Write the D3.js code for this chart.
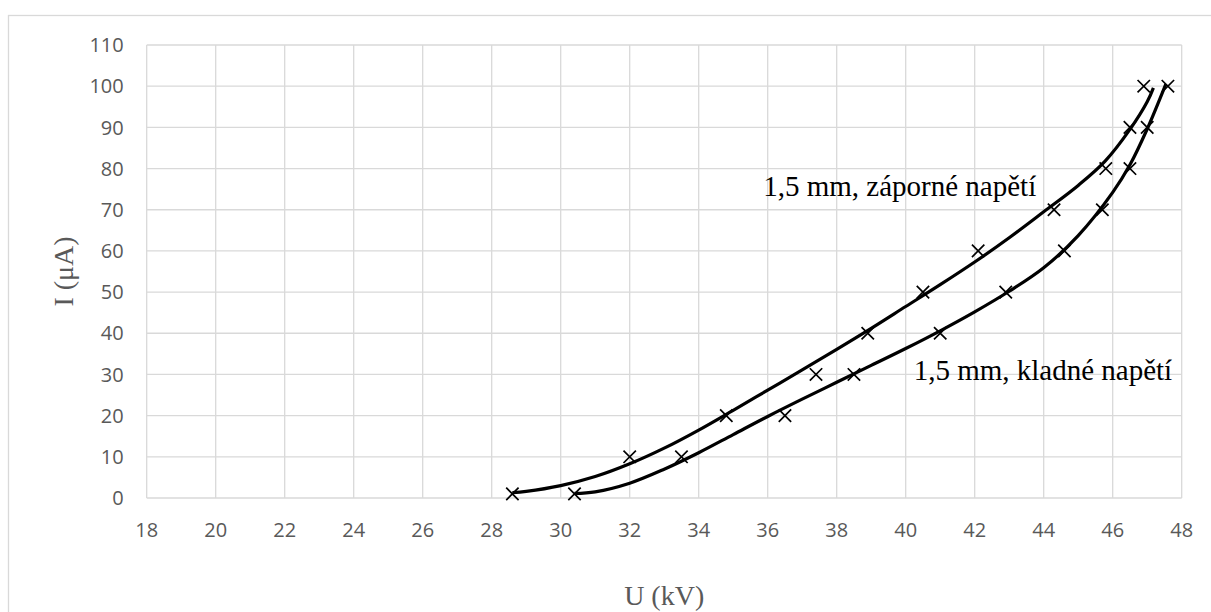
<!DOCTYPE html>
<html>
<head>
<meta charset="utf-8">
<script src="https://cdn.jsdelivr.net/npm/d3@7"></script>
<style>
  html, body { margin: 0; padding: 0; background: #fff; }
  svg { display: block; }
</style>
</head>
<body>
<svg id="chart" width="1211" height="612"></svg>
<script>
// ---- data ----
const yValues = [1, 10, 20, 30, 40, 50, 60, 70, 80, 90, 100];
const negX = [28.6, 32.0, 34.8, 37.4, 38.9, 40.5, 42.1, 44.3, 45.8, 46.5, 46.9];   // 1,5 mm, záporné napětí
const posX = [30.4, 33.5, 36.5, 38.5, 41.0, 42.9, 44.6, 45.7, 46.5, 47.0, 47.6];   // 1,5 mm, kladné napětí
// trend curves
const negCurveX = [28.6, 29, 30, 31, 32, 33, 34, 35, 36, 37, 38, 39, 40, 41, 42, 43, 44, 45, 45.78, 46.5, 47, 47.18];
const negCurveY = [1.3, 1.6, 3.0, 5.2, 8.3, 12.1, 16.5, 21.3, 26.2, 31.1, 36.1, 41.2, 46.5, 51.8, 57.3, 63.2, 69.5, 75.9, 81.8, 89.5, 96.2, 99.6];
const posCurveX = [30.4, 31, 32, 33, 34, 35, 36, 37, 38, 39, 40, 41, 42, 43, 44, 45, 46, 46.5, 47, 47.54];
const posCurveY = [1.1, 1.5, 3.6, 7.0, 11.0, 15.4, 19.8, 24.0, 28.1, 32.2, 36.3, 40.6, 45.2, 50.2, 55.9, 63.7, 74.2, 80.9, 89.6, 100.5];
const xTicks = d3.range(18, 48.01, 2);
const yTicks = d3.range(0, 110.01, 10);
const xTitle = "U (kV)";
const yTitle = "I (μA)";
const negLabel = "1,5 mm, záporné napětí";
const posLabel = "1,5 mm, kladné napětí";

// ---- layout ----
const svg = d3.select("#chart");
const x = d3.scaleLinear().domain([18, 48]).range([146.7, 1181.7]);
const y = d3.scaleLinear().domain([0, 110]).range([498, 45]);

svg.append("rect").attr("width", 1211).attr("height", 612).attr("fill", "#fff");
svg.append("rect").attr("x", 8.5).attr("y", 15.5).attr("width", 1300).attr("height", 700)
  .attr("fill", "none").attr("stroke", "#d9d9d9").attr("stroke-width", 1.3);

const grid = svg.append("g").attr("stroke", "#d9d9d9").attr("stroke-width", 1.3);
grid.selectAll("line.v").data(xTicks).join("line").attr("class", "v")
  .attr("x1", d => x(d)).attr("x2", d => x(d)).attr("y1", y(110)).attr("y2", y(0));
grid.selectAll("line.h").data(yTicks).join("line").attr("class", "h")
  .attr("x1", x(18)).attr("x2", x(48)).attr("y1", d => y(d)).attr("y2", d => y(d));

const tickFont = "'Open Sans', 'Liberation Sans', sans-serif";
svg.append("g").selectAll("text").data(xTicks).join("text")
  .attr("x", d => x(d)).attr("y", y(0) + 39)
  .attr("text-anchor", "middle").attr("font-family", tickFont).attr("font-size", 20)
  .attr("fill", "#595959").text(d => d);
svg.append("g").selectAll("text").data(yTicks).join("text")
  .attr("x", x(18) - 23).attr("y", d => y(d)).attr("dy", "0.36em")
  .attr("text-anchor", "end").attr("font-family", tickFont).attr("font-size", 20)
  .attr("fill", "#595959").text(d => d);

const serif = "'Liberation Serif', 'Times New Roman', serif";
svg.append("text").attr("x", (x(18) + x(48)) / 2).attr("y", 605)
  .attr("text-anchor", "middle").attr("font-family", serif).attr("font-size", 28)
  .attr("fill", "#595959").text(xTitle);
svg.append("text").attr("transform", `translate(73,${(y(0) + y(110)) / 2}) rotate(-90)`)
  .attr("text-anchor", "middle").attr("font-family", serif).attr("font-size", 28)
  .attr("fill", "#595959").text(yTitle);

// curves
const line = d3.line().x(d => x(d[0])).y(d => y(d[1])).curve(d3.curveCatmullRom.alpha(0.5));
svg.append("path").datum(negCurveX.map((v, i) => [v, negCurveY[i]]))
  .attr("d", line).attr("fill", "none").attr("stroke", "#000").attr("stroke-width", 3.2);
svg.append("path").datum(posCurveX.map((v, i) => [v, posCurveY[i]]))
  .attr("d", line).attr("fill", "none").attr("stroke", "#000").attr("stroke-width", 3.2);

// markers
const m = 6.2;
function drawMarkers(xs) {
  const g = svg.append("g").attr("stroke", "#000").attr("stroke-width", 1.7);
  const pts = xs.map((v, i) => [v, yValues[i]]);
  g.selectAll("path").data(pts).join("path")
    .attr("d", d => {
      const cx = x(d[0]), cy = y(d[1]);
      return `M${cx - m},${cy - m}L${cx + m},${cy + m}M${cx - m},${cy + m}L${cx + m},${cy - m}`;
    });
}
drawMarkers(negX);
drawMarkers(posX);

// labels
svg.append("text").attr("x", x(35.87)).attr("y", y(73.3))
  .attr("font-family", serif).attr("font-size", 29).attr("fill", "#000").text(negLabel);
svg.append("text").attr("x", x(40.23)).attr("y", y(28.65))
  .attr("font-family", serif).attr("font-size", 29).attr("fill", "#000").text(posLabel);
</script>
</body>
</html>
